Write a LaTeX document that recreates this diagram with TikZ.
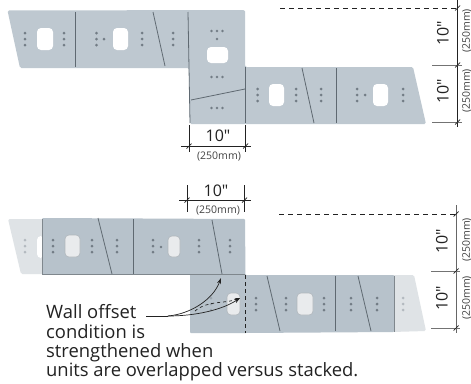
\documentclass[tikz,border=0pt]{standalone}
\usepackage{fontspec}
\setmainfont{Open Sans}
\newfontfamily\plainf{Open Sans}
\usetikzlibrary{arrows.meta}
\definecolor{blk}{HTML}{BEC8D0}
\definecolor{blkd}{HTML}{B7C2CB}
\definecolor{ghost}{HTML}{DFE3E6}
\definecolor{joint}{HTML}{5F6971}
\definecolor{dotc}{HTML}{727C85}
\definecolor{ink}{HTML}{222222}
\newcommand{\dotcol}[2]{\fill[dotc] (#1,#2-6) circle (1.5) (#1,#2) circle (1.5) (#1,#2+6) circle (1.5);}
\newcommand{\dotrow}[2]{\fill[dotc] (#1-5.5,#2) circle (1.4) (#1,#2) circle (1.4) (#1+5.5,#2) circle (1.4);}
\newcommand{\tickmk}[2]{\draw[dimline] (#1-2.5,#2+2.5) -- (#1+2.5,#2-2.5);}
\tikzset{
  x=1pt,y=-1pt,
  blockmain/.style={fill=blk,rounded corners=1.5pt},
  blockdark/.style={fill=blkd,rounded corners=1pt},
  blockghost/.style={fill=ghost,rounded corners=1.5pt},
  jointline/.style={draw=joint,line width=0.8pt},
  hole/.style={fill=white,rounded corners=4pt},
  holedim/.style={fill=ghost!70!white,draw=dotc!55,line width=0.6pt,rounded corners=4pt},
  dimline/.style={draw=ink,line width=0.7pt},
  graydim/.style={draw=black!55,line width=1pt},
  dashline/.style={draw=ink,line width=0.8pt,dash pattern=on 5pt off 4pt},
  bigdim/.style={font=\plainf\fontsize{16}{17}\selectfont,text=ink,inner sep=0pt},
  smalldim/.style={font=\plainf\fontsize{10.5}{11}\selectfont,text=ink!85,inner sep=0pt},
  note/.style={font=\fontsize{18.4}{19}\selectfont,text=ink,inner sep=0pt,anchor=base west},
  leader/.style={draw=ink,line width=0.7pt},
}
\begin{document}
\begin{tikzpicture}
\useasboundingbox (0,0) rectangle (471,383);
\fill[white] (0,0) rectangle (471,383);
% ===== top figure =====
\path[blockmain] (7.5,10.5) -- (245,10) -- (245,67) -- (413,67) -- (426,124) -- (190,124) -- (189,68) -- (20,68) -- cycle;
\draw[jointline] (75.5,12) -- (75.5,67);
\draw[jointline] (153,12) -- (165,66);
\draw[jointline] (188,12) -- (190,123);
\draw[jointline] (191,100) -- (245,89);
\draw[jointline] (245.5,67) -- (245.5,123);
\draw[jointline] (302,68) -- (314,123);
\draw[jointline] (336,68) -- (336,123);
\path[hole] (37,28) rectangle (53,50);
\path[hole] (113,28) rectangle (128,50);
\path[hole] (207,47) rectangle (228,63);
\path[hole] (269,84) rectangle (284,106);
\path[hole] (373,84) rectangle (388,106);
\dotcol{25}{39}\dotcol{64}{39}\dotcol{96.5}{39}\dotcol{142}{39}\dotcol{173}{39}
\fill[dotc] (104,39) circle (1.5);
\dotrow{217}{31}\fill[dotc] (217,39) circle (1.4);
\dotrow{217}{77}\dotrow{217}{108}
\dotcol{257.5}{95}\dotcol{296}{95}\dotcol{321}{95}\dotcol{357}{95}\dotcol{403}{95}
\fill[dotc] (365,95) circle (1.5);
% top horizontal dimension
\draw[dimline] (189,125) -- (189,152);
\draw[dimline] (245.5,125) -- (245.5,152);
\draw[dimline] (181,146) -- (251,146);
\tickmk{189}{146}\tickmk{245.5}{146}
\node[bigdim] (dimA) at (218,136) {10"};
\node[smalldim] (dimAmm) at (219,156.5) {(250mm)};
% top vertical dimension
\draw[dashline] (280,8) -- (457,8);
\draw[dimline] (457.5,0) -- (457.5,127);
\draw[graydim] (432,65) -- (462,65);
\draw[graydim] (432,122) -- (462,122);
\tickmk{457.5}{8}\tickmk{457.5}{65}\tickmk{457.5}{122}
\node[bigdim,rotate=90] (dimB) at (443,33) {10"};
\node[bigdim,rotate=90] (dimC) at (443,91) {10"};
\node[smalldim,rotate=90] (dimBmm) at (467,31) {(250mm)};
\node[smalldim,rotate=90] (dimCmm) at (467,91) {(250mm)};
% ===== bottom figure =====
\path[blockghost] (8,219) -- (44,219) -- (44,274) -- (21,274) -- cycle;
\path[blockghost] (392,275) -- (414,275) -- (426,331) -- (392,332) -- cycle;
\path[hole] (37,236) rectangle (44,258);
\path[blockdark] (42,218) -- (245,219) -- (245.5,275) -- (394,275) -- (394,332) -- (245.5,333) -- (190,333) -- (190,274) -- (42,274) -- cycle;
\draw[jointline] (98,218) -- (112,274);
\draw[jointline] (133,219) -- (133,274);
\draw[jointline] (212,220) -- (222,274);
\draw[draw=joint!80,line width=0.6pt] (42,219) -- (42,274);
\draw[draw=joint!80,line width=0.6pt] (42,274) -- (245,274);
\draw[draw=joint!80,line width=0.6pt] (394,276) -- (394,332);
\draw[jointline] (267,276) -- (280,331);
\draw[jointline] (335,276) -- (335,331);
\draw[jointline] (358,276) -- (371,331);
\path[holedim] (65,235) rectangle (80,257);
\path[holedim] (168,236) rectangle (180,257);
\path[holedim] (227,293) rectangle (240,315);
\path[holedim] (297,293) rectangle (313,315);
\dotcol{53}{246}\dotcol{92}{246}\dotcol{117}{246}\dotcol{153}{246}\dotcol{199}{246}\dotcol{230}{246}
\fill[dotc] (161,247) circle (1.4);
\dotcol{256}{304}\dotcol{286}{304}\dotcol{324}{304}\dotcol{351}{304}\dotcol{377}{304}
\begin{scope}[opacity=0.4]
\dotcol{25}{246}\dotcol{403}{304}
\dotcol{211}{304}
\end{scope}
\draw[dashline,line width=0.8pt,dash pattern=on 4pt off 3pt] (245.5,275) -- (245.5,333);
% bottom horizontal dimension
\draw[dimline] (187,185) -- (187,212);
\draw[dimline] (244.5,185) -- (244.5,212);
\draw[dimline] (179,200) -- (251,200);
\tickmk{187}{200}\tickmk{244.5}{200}
\node[bigdim] (dimD) at (216,191) {10"};
\node[smalldim] (dimDmm) at (218,211) {(250mm)};
% bottom vertical dimension
\draw[dashline] (279,214) -- (457,214);
\draw[dimline,draw=black!60,line width=1pt] (456,205) -- (456,333);
\draw[graydim] (431,271) -- (460,271);
\draw[graydim] (431,328) -- (460,328);
\tickmk{456}{214}\tickmk{456}{271}\tickmk{456}{328}
\node[bigdim,rotate=90] (dimE) at (442,241) {10"};
\node[bigdim,rotate=90] (dimF) at (442,298) {10"};
\node[smalldim,rotate=90] (dimEmm) at (467,240) {(250mm)};
\node[smalldim,rotate=90] (dimFmm) at (467,298) {(250mm)};
% note
\coordinate (lead) at (168,316);
\coordinate (tipA) at (221,278);
\coordinate (tipB) at (240,298);
\draw[leader] (146,316) -- (lead);
\draw[leader,-{Stealth[length=6pt,width=4pt]}] (lead) .. controls (190,314) and (213,300) .. (tipA);
\draw[leader,-{Stealth[length=6pt,width=4pt]}] (lead) .. controls (195,316) and (222,310) .. (tipB);
\draw[leader,dashed,-{Stealth[length=5pt,width=3.5pt]}] (195,311) .. controls (208,300) and (225,304) .. (tipB);
\node[note] (n1) at (46,318) {Wall offset};
\node[note] (n2) at (46,338) {condition is};
\node[note] (n3) at (46,357) {strengthened when};
\node[note] (n4) at (46,376) {units are overlapped versus stacked.};
\end{tikzpicture}
\end{document}
